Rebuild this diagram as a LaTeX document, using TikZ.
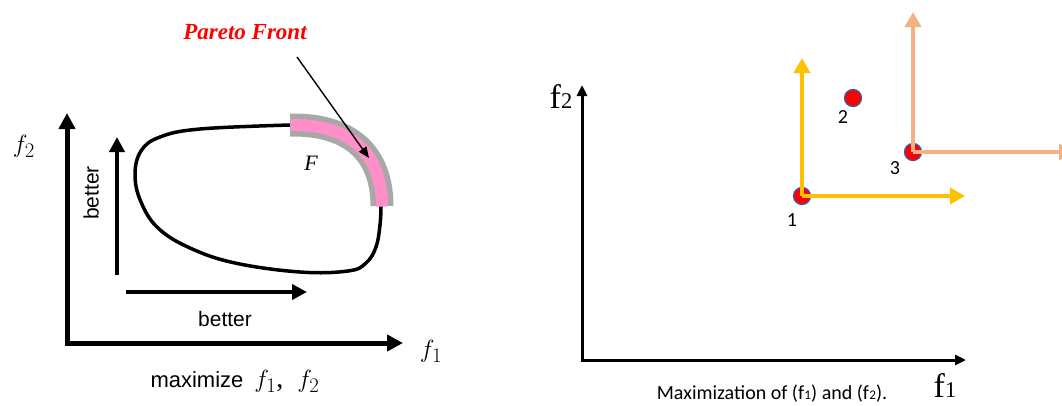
\documentclass[tikz,border=0pt]{standalone}
\usepackage{fontspec}
\usepackage{graphicx}
\setmainfont{Liberation Serif}
\setsansfont{Liberation Sans}
\newfontfamily\calibri{Carlito}
\usetikzlibrary{arrows.meta}
\definecolor{ygold}{HTML}{FFC000}
\definecolor{peach}{HTML}{F4B183}
\definecolor{pfpink}{HTML}{FF8FC8}
\definecolor{pfgray}{HTML}{A8A8A8}
\definecolor{ptedge}{HTML}{3B5C9E}
\newcommand\fsz[1]{\fontsize{#1}{#1}\selectfont}
\newcommand\cf[1]{f\kern0.3pt\scalebox{0.66}{#1}}
\tikzset{
  bigaxis/.style={line width=5pt,{Triangle[length=16pt,width=16pt]}-{Triangle[length=16pt,width=16pt]}},
  betterarrow/.style={line width=4.5pt,-{Triangle[length=15pt,width=15pt]}},
  thinaxis/.style={line width=3pt,{Triangle[length=11pt,width=10pt]}-{Triangle[length=11pt,width=10pt]}},
  yarrow/.style={ygold,line width=4.5pt,-{Triangle[length=15pt,width=16pt]}},
  parrow/.style={peach,line width=4.5pt,-{Triangle[length=15pt,width=16pt]}},
  pt/.style={circle,fill=red,draw=ptedge,line width=1.3pt,minimum size=17pt,inner sep=0pt},
  numlbl/.style={font=\calibri\fsz{20}},
  arial/.style={font=\sffamily\fsz{21}},
}
\begin{document}
\begin{tikzpicture}[x=1pt,y=-1pt]
\useasboundingbox (0,0) rectangle (1062,405);
% ---------- left panel ----------
\coordinate (LO) at (67,343);
\coordinate (LY) at (67,113);
\coordinate (LX) at (403,343);
\draw[bigaxis] (LY) -- (LO) -- (LX);
\node (lf2) at (24,146) {\fsz{28}$f_2$};
\node (lf1) at (431,351) {\fsz{28}$f_1$};
\node (lmax) at (235,381) {\sffamily\fsz{22}maximize\enspace\normalfont\fsz{28}$f_1$,\enspace$f_2$};
\coordinate (bv0) at (117,275);
\coordinate (bv1) at (117,137);
\draw[betterarrow] (bv0) -- (bv1);
\node[arial,rotate=90] (bvt) at (91,193) {better};
\coordinate (bh0) at (126,292);
\coordinate (bh1) at (307,292);
\draw[betterarrow] (bh0) -- (bh1);
\node[arial] (bht) at (225,319) {better};
% region boundary
\draw[line width=3.5pt,line cap=round] plot[smooth,tension=0.65] coordinates
 {(290,125) (200,129) (160,137) (141,151) (135,175) (141,202) (158,228) (190,248) (235,263) (300,272) (348,271) (366,263) (376,247) (380,225) (381,206)};
% Pareto front band
\coordinate (pf0) at (290,125);
\coordinate (pf1) at (382,206);
\draw[pfgray,line width=23pt] (pf0) .. controls (352,124) and (382,155) .. (pf1);
\draw[pfpink,line width=12pt] ([xshift=0.5pt]pf0) .. controls (352,124) and (382,155) .. ([yshift=-0.5pt]pf1);
\node (F) at (311,163) {\fsz{22}\itshape F};
\node[text=red,font=\bfseries\itshape\fsz{23}] (pft) at (245,32) {Pareto Front};
\coordinate (pa0) at (297,57);
\coordinate (pa1) at (369,158);
\draw[line width=1.4pt,-{Triangle[length=11pt,width=9pt]}] (pa0) -- (pa1);
% ---------- right panel ----------
\coordinate (RO) at (582,360);
\coordinate (RY) at (582,85);
\coordinate (RX) at (966,360);
\draw[thinaxis] (RY) -- (RO) -- (RX);
\node (rf2) at (561,97) {\fsz{34}\cf{2}};
\node (rf1) at (945,386) {\fsz{34}\cf{1}};
\node[font=\calibri\fsz{20}] (cap) at (772,394) {Maximization of (\cf{1}) and (\cf{2}).};
% points
\node[pt] (p1) at (802,196) {};
\node[pt] (p2) at (853,98) {};
\node[pt] (p3) at (913,152) {};
\node[numlbl] (l1) at (792,220) {1};
\node[numlbl] (l2) at (843,117) {2};
\node[numlbl] (l3) at (895,168) {3};
\coordinate (y1u) at (802,58);
\coordinate (y1r) at (965,196);
\draw[yarrow] (p1.center) -- (y1u);
\draw[yarrow] (p1.center) -- (y1r);
\coordinate (p3u) at (913,12);
\coordinate (p3r) at (1074,152);
\draw[parrow] (p3.center) -- (p3u);
\draw[parrow] (p3.center) -- (p3r);
\end{tikzpicture}
\end{document}
